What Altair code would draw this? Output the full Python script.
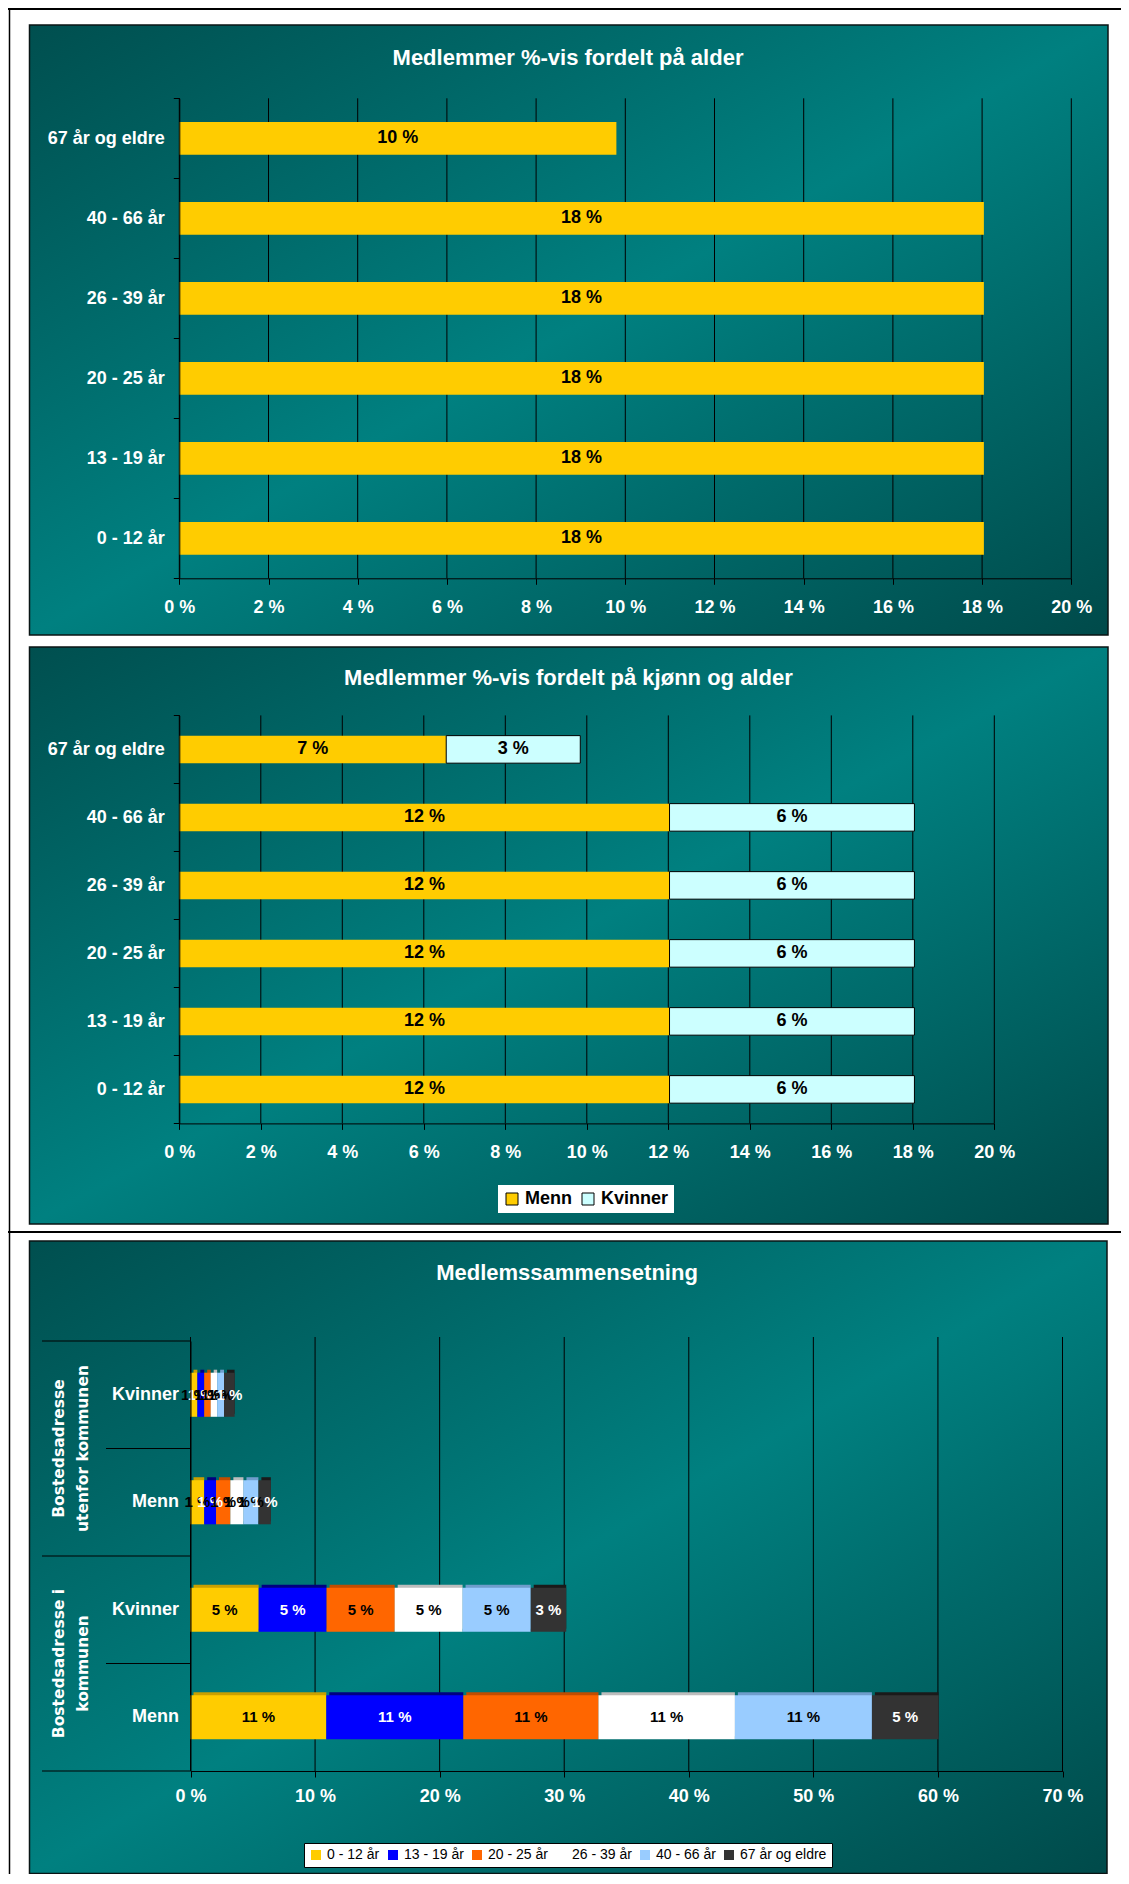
import altair as alt
import pandas as pd

FONT = "Liberation Sans"
GROUP_FONT = "DejaVu Sans"

# ---------------- data ----------------
# Panel 1
title1 = "Medlemmer %-vis fordelt på alder"
age_groups = ["67 år og eldre", "40 - 66 år", "26 - 39 år", "20 - 25 år", "13 - 19 år", "0 - 12 år"]
p1_values = [9.8, 18.04, 18.04, 18.04, 18.04, 18.04]
p1_ticks = [0, 2, 4, 6, 8, 10, 12, 14, 16, 18, 20]

# Panel 2
title2 = "Medlemmer %-vis fordelt på kjønn og alder"
sexes = ["Menn", "Kvinner"]
sex_colors = ["#ffcc00", "#ccffff"]
p2_menn = [6.55, 12.03, 12.03, 12.03, 12.03, 12.03]
p2_kvinner = [3.29, 6.01, 6.01, 6.01, 6.01, 6.01]
p2_ticks = [0, 2, 4, 6, 8, 10, 12, 14, 16, 18, 20]

# Panel 3
title3 = "Medlemssammensetning"
p3_ages = ["0 - 12 år", "13 - 19 år", "20 - 25 år", "26 - 39 år", "40 - 66 år", "67 år og eldre"]
p3_colors = ["#ffcc00", "#0000ff", "#ff6600", "#ffffff", "#99ccff", "#333333"]
p3_shades = ["#c9a000", "#000080", "#c04d00", "#bdbdbd", "#6f9dcc", "#1a1a1a"]
p3_textcolors = ["black", "white", "black", "black", "black", "white"]
p3_rows = ["Kvinner|utenfor", "Menn|utenfor", "Kvinner|i", "Menn|i"]
p3_row_kind = ["long", "short", "long", "short"]
p3_group_rows = ["Menn|utenfor", "Menn|i"]
p3_group_labels = [["Bostedsadresse", "utenfor kommunen"], ["Bostedsadresse i", "kommunen"]]
p3_kvinner_utenfor = [0.55, 0.55, 0.52, 0.52, 0.55, 0.85]
p3_menn_utenfor = [1.1, 0.95, 1.15, 1.05, 1.2, 1.0]
p3_kvinner_i = [5.47, 5.45, 5.47, 5.45, 5.47, 2.85]
p3_menn_i = [10.9, 11.0, 10.85, 10.95, 11.0, 5.35]
p3_ticks = [0, 10, 20, 30, 40, 50, 60, 70]

# ---------------- layout (pixels inside the single canvas) ----------------
W, H = 1113, 1866
X1R, Y1R = [171.3, 1063.3], [90.3, 570.3]
X2R, Y2R = [171.3, 986.3], [707.4, 1115.4]
X3R, Y3R = [182.5, 1054.5], [1333.0, 1763.0]

TEAL = {
    "gradient": "linear", "x1": 0, "y1": 0, "x2": 1, "y2": 1,
    "stops": [
        {"offset": 0.0, "color": "#004f4f"},
        {"offset": 0.5, "color": "#008080"},
        {"offset": 1.0, "color": "#004a4a"},
    ],
}
ONE = [{}]


def rect(x1, x2, y1, y2, **kw):
    return alt.Chart(alt.Data(values=ONE)).mark_rect(**kw).encode(
        x=alt.value(x1), x2=alt.value(x2), y=alt.value(y1), y2=alt.value(y2))


def hline(x1, x2, y, w=2):
    return alt.Chart(alt.Data(values=ONE)).mark_rule(color="black", strokeWidth=w).encode(
        x=alt.value(x1), x2=alt.value(x2), y=alt.value(y))


def vline(x, y1, y2, w=1.5):
    return alt.Chart(alt.Data(values=ONE)).mark_rule(color="black", strokeWidth=w).encode(
        x=alt.value(x), y=alt.value(y1), y2=alt.value(y2))


def title_text(txt, x, y):
    return alt.Chart(alt.Data(values=ONE)).mark_text(
        font=FONT, fontSize=22, fontWeight="bold", color="white",
        align="center", baseline="middle").encode(
        x=alt.value(x), y=alt.value(y), text=alt.value(txt))


def x_axis(vals, pad, bottom):
    return alt.Axis(orient="bottom", offset=bottom - H, values=vals,
                    labelExpr="datum.value + ' %'", grid=False,
                    domainColor="black", domainWidth=1, tickColor="black",
                    tickSize=6, tickWidth=1, labelColor="white", labelFont=FONT,
                    labelFontSize=18, labelFontWeight="bold", labelPadding=pad,
                    labelFlush=False, labelOverlap=False, title=None, zindex=1)


def y_axis(left):
    return alt.Axis(orient="left", offset=-left, domainColor="black", tickColor="black",
                    tickSize=6, tickBand="extent", labelColor="white", labelFont=FONT,
                    labelFontSize=18, labelFontWeight="bold", labelPadding=9,
                    labelLimit=400, title=None, zindex=1)


LABEL = "format(datum.value, '.0f') + ' %'"

# ---------------- panel 1 ----------------
xs1 = alt.Scale(domain=[0, 20], range=X1R, nice=False)
xa1 = x_axis(p1_ticks, 14, Y1R[1])
ys1 = alt.Scale(domain=age_groups, range=Y1R, paddingInner=0, paddingOuter=0)
ya1 = y_axis(X1R[0])
df1 = pd.DataFrame({"age": age_groups, "value": p1_values})

grid1 = alt.Chart(pd.DataFrame({"value": p1_ticks})).mark_rule(color="black", strokeWidth=1).encode(
    x=alt.X("value:Q", scale=xs1, axis=xa1), y=alt.value(Y1R[0]), y2=alt.value(Y1R[1]))
bars1 = alt.Chart(df1).mark_bar(color="#ffcc00", height={"band": 0.41}).encode(
    x=alt.X("value:Q", scale=xs1, axis=xa1),
    y=alt.Y("age:N", scale=ys1, axis=ya1, sort=age_groups))
text1 = alt.Chart(df1).transform_calculate(mid="datum.value / 2", label=LABEL).mark_text(
    font=FONT, fontSize=18, fontWeight="bold", color="black").encode(
    x=alt.X("mid:Q", scale=xs1, axis=xa1),
    y=alt.Y("age:N", scale=ys1, axis=ya1, sort=age_groups),
    text="label:N")

p1 = alt.layer(
    rect(21.5, 1100, 17, 627, fill=TEAL, stroke="#0a1414", strokeWidth=1.5),
    grid1, bars1, text1,
    title_text(title1, 560, 50),
)

# ---------------- panel 2 ----------------
xs2 = alt.Scale(domain=[0, 20], range=X2R, nice=False)
xa2 = x_axis(p2_ticks, 14, Y2R[1])
ys2 = alt.Scale(domain=age_groups, range=Y2R, paddingInner=0, paddingOuter=0)
ya2 = y_axis(X2R[0])
rows2 = []
for i, a in enumerate(age_groups):
    rows2.append({"age": a, "sex": sexes[0], "order": 0, "value": p2_menn[i]})
    rows2.append({"age": a, "sex": sexes[1], "order": 1, "value": p2_kvinner[i]})
df2 = pd.DataFrame(rows2)

base2 = alt.Chart(df2).transform_stack(
    stack="value", groupby=["age"], as_=["x0", "x1"],
    sort=[alt.SortField(field="order", order="ascending")]
).transform_calculate(mid="(datum.x0 + datum.x1) / 2", label=LABEL)

legend2 = alt.Legend(orient="none", legendX=490, legendY=1177, direction="horizontal",
                     title=None, fillColor="white", padding=5, symbolType="square",
                     symbolSize=144, symbolStrokeColor="black", symbolStrokeWidth=1,
                     labelFont=FONT, labelFontSize=18, labelFontWeight="bold",
                     labelColor="black", labelOffset=4, columnPadding=7)

grid2 = alt.Chart(pd.DataFrame({"x0": p2_ticks})).mark_rule(color="black", strokeWidth=1).encode(
    x=alt.X("x0:Q", scale=xs2, axis=xa2), y=alt.value(Y2R[0]), y2=alt.value(Y2R[1]))
bars2 = base2.mark_bar(height={"band": 0.405}, stroke="black").encode(
    x=alt.X("x0:Q", scale=xs2, axis=xa2), x2="x1:Q",
    y=alt.Y("age:N", scale=ys2, axis=ya2, sort=age_groups),
    color=alt.Color("sex:N", scale=alt.Scale(domain=sexes, range=sex_colors), legend=legend2),
    strokeWidth=alt.condition("datum.sex == 'Kvinner'", alt.value(1), alt.value(0)))
text2 = base2.mark_text(font=FONT, fontSize=18, fontWeight="bold", color="black").encode(
    x=alt.X("mid:Q", scale=xs2, axis=xa2),
    y=alt.Y("age:N", scale=ys2, axis=ya2, sort=age_groups),
    text="label:N")

p2 = alt.layer(
    rect(21.5, 1100, 639, 1216, fill=TEAL, stroke="#0a1414", strokeWidth=1.5),
    grid2, bars2, text2,
    title_text(title2, 560.4, 670.3),
)

# ---------------- panel 3 ----------------
xs3 = alt.Scale(domain=[0, 70], range=X3R, nice=False)
xa3 = x_axis(p3_ticks, 10, Y3R[1])
ys3 = alt.Scale(domain=p3_rows, range=Y3R, paddingInner=0, paddingOuter=0)
ya3 = alt.Axis(orient="left", offset=-X3R[0], labelExpr="split(datum.label, '|')[0]",
               ticks=False, domainColor="black", labelColor="white", labelFont=FONT,
               labelFontSize=18, labelFontWeight="bold", labelPadding=12, title=None, zindex=1)
series3 = {
    "Kvinner|utenfor": p3_kvinner_utenfor,
    "Menn|utenfor": p3_menn_utenfor,
    "Kvinner|i": p3_kvinner_i,
    "Menn|i": p3_menn_i,
}
rows3 = []
for r in p3_rows:
    for j, a in enumerate(p3_ages):
        rows3.append({"row": r, "age": a, "order": j, "value": series3[r][j],
                      "shade": p3_shades[j], "tcol": p3_textcolors[j]})
df3 = pd.DataFrame(rows3)

base3 = alt.Chart(df3).transform_stack(
    stack="value", groupby=["row"], as_=["x0", "x1"],
    sort=[alt.SortField(field="order", order="ascending")]
).transform_calculate(mid="(datum.x0 + datum.x1) / 2", label=LABEL)

Y3 = dict(scale=ys3, axis=ya3, sort=p3_rows)

legend3 = alt.Legend(orient="none", legendX=296, legendY=1835, direction="horizontal",
                     title=None, fillColor="white", strokeColor="black", padding=5,
                     symbolType="square", symbolSize=100, symbolStrokeWidth=0,
                     labelFont=FONT, labelFontSize=14, labelFontWeight="normal",
                     labelColor="black", labelOffset=4, columnPadding=6)

grid3 = alt.Chart(pd.DataFrame({"x0": p3_ticks})).mark_rule(color="black", strokeWidth=1).encode(
    x=alt.X("x0:Q", scale=xs3, axis=xa3), y=alt.value(Y3R[0] - 4), y2=alt.value(Y3R[1]))
shade3 = base3.mark_bar(height={"band": 0.41}, xOffset=3, yOffset=-3).encode(
    x=alt.X("x0:Q", scale=xs3, axis=xa3), x2="x1:Q",
    y=alt.Y("row:N", **Y3),
    fill=alt.Fill("shade:N", scale=None))
bars3 = base3.mark_bar(height={"band": 0.41}).encode(
    x=alt.X("x0:Q", scale=xs3, axis=xa3), x2="x1:Q",
    y=alt.Y("row:N", **Y3),
    color=alt.Color("age:N", scale=alt.Scale(domain=p3_ages, range=p3_colors), legend=legend3))
text3 = base3.mark_text(font=FONT, fontSize=15, fontWeight="bold").encode(
    x=alt.X("mid:Q", scale=xs3, axis=xa3),
    y=alt.Y("row:N", **Y3),
    fill=alt.Fill("tcol:N", scale=None),
    text="label:N")

lines_df = pd.DataFrame({"row": p3_rows, "kind": p3_row_kind})
long3 = alt.Chart(lines_df).transform_filter("datum.kind == 'long'").mark_rule(
    color="black", strokeWidth=1).encode(
    x=alt.value(34), x2=alt.value(X3R[0]), y=alt.Y("row:N", bandPosition=0, **Y3))
short3 = alt.Chart(lines_df).transform_filter("datum.kind == 'short'").mark_rule(
    color="black", strokeWidth=1).encode(
    x=alt.value(98), x2=alt.value(X3R[0]), y=alt.Y("row:N", bandPosition=0, **Y3))
bottom3 = alt.Chart(lines_df.tail(1)).mark_rule(color="black", strokeWidth=1).encode(
    x=alt.value(34), x2=alt.value(X3R[0]), y=alt.Y("row:N", bandPosition=1, **Y3))

grp_df = pd.DataFrame({"row": p3_group_rows, "lines": p3_group_labels})
groups3 = alt.Chart(grp_df).mark_text(
    angle=270, font=GROUP_FONT, fontSize=15.5, fontWeight="bold", color="white",
    align="center", baseline="middle", lineHeight=24).encode(
    x=alt.value(51), y=alt.Y("row:N", bandPosition=0, **Y3), text="lines:N")

p3 = alt.layer(
    rect(21.5, 1099, 1233, 1865.5, fill=TEAL, stroke="#0a1414", strokeWidth=1.5),
    grid3, long3, short3, bottom3, shade3, bars3, text3, groups3,
    title_text(title3, 559, 1265),
)

frame = alt.layer(
    hline(0, W, 1, 2),
    hline(0, W, 1224, 2),
    vline(1.5, 0, H),
)

chart = alt.layer(frame, p1, p2, p3).resolve_scale(
    x="independent", y="independent", color="independent", fill="independent"
).resolve_axis(x="independent", y="independent").properties(
    width=W, height=H,
    autosize=alt.AutoSizeParams(type="none"),
    padding={"left": 0, "right": 0, "top": 0, "bottom": 0},
    background="white",
).configure_view(stroke=None)

chart.save("out.html", embed_options={"renderer": "svg", "actions": False})
